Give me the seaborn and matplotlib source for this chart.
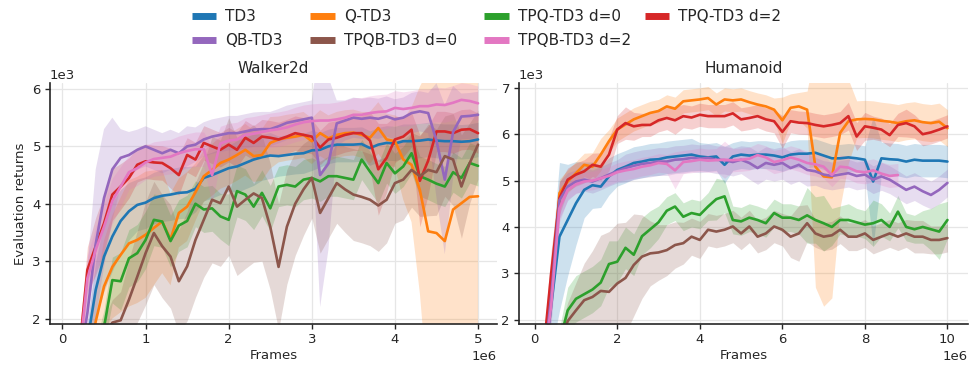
import numpy as np
import matplotlib
matplotlib.use("Agg")
import matplotlib.pyplot as plt
from matplotlib.lines import Line2D
import seaborn as sns

sns.set_theme(style="ticks")
plt.rcParams['font.family'] = ['DejaVu Sans']

# ---- data (returns in 1e3, frames in 1e6) ----
names = ['TD3', 'Q-TD3', 'TPQ-TD3 d=0', 'TPQ-TD3 d=2', 'QB-TD3', 'TPQB-TD3 d=0', 'TPQB-TD3 d=2']
colors = ['#1f77b4', '#ff7f0e', '#2ca02c', '#d62728', '#9467bd', '#8c564b', '#e377c2']

# evaluation schedule: every 0.1e6 frames (Walker2d), every 0.2e6 frames (Humanoid)
walker_frames = np.linspace(0, 5, 51)
humanoid_frames = np.linspace(0, 10, 51)

walker_td3 = [0.3, 0.4, 0.8, 1.6, 2.5, 3.08, 3.43, 3.7, 3.87, 3.98,
              4.02, 4.1, 4.14, 4.16, 4.19, 4.2, 4.26, 4.45, 4.5, 4.56,
              4.62, 4.65, 4.71, 4.77, 4.81, 4.84, 4.83, 4.85, 4.87, 4.88,
              4.93, 4.94, 5.0, 5.03, 5.03, 5.03, 5.04, 4.97, 5.03, 5.06,
              5.05, 5.09, 5.09, 5.1, 5.12, 5.1, 5.09, 5.09, 5.08, 5.09,
              5.12]
walker_qtd3 = [0.3, 0.4, 0.7, 1.2, 1.95, 2.56, 2.9, 3.11, 3.31, 3.37,
               3.46, 3.58, 3.69, 3.38, 3.84, 3.95, 4.2, 4.48, 4.59, 4.71,
               4.77, 4.85, 4.94, 4.83, 4.85, 5.06, 5.12, 5.15, 5.17, 5.2,
               5.09, 5.23, 5.14, 5.2, 5.23, 5.24, 5.2, 5.15, 5.32, 5.12,
               5.09, 4.77, 4.68, 4.24, 3.52, 3.49, 3.35, 3.9, 4.01, 4.12,
               4.13]
walker_tpq0 = [0.2, 0.3, 0.5, 0.8, 1.3, 1.85, 2.67, 2.65, 3.05, 3.14,
               3.37, 3.72, 3.69, 3.35, 3.62, 3.7, 4.0, 3.9, 3.92, 3.78,
               3.72, 4.22, 4.16, 3.95, 4.19, 3.92, 4.3, 4.33, 4.3, 4.42,
               4.45, 4.39, 4.48, 4.48, 4.45, 4.42, 4.77, 4.56, 4.36, 4.71,
               4.53, 4.65, 4.88, 4.48, 4.42, 4.35, 4.3, 4.55, 4.45, 4.71,
               4.66]
walker_tpq2 = [0.3, 0.6, 1.4, 2.85, 3.26, 3.66, 4.16, 4.3, 4.45, 4.68,
               4.74, 4.72, 4.71, 4.62, 4.5, 4.85, 4.77, 5.06, 5.0, 4.94,
               5.03, 4.94, 5.15, 5.06, 5.17, 5.15, 5.12, 5.17, 5.23, 5.2,
               5.17, 4.98, 5.12, 5.15, 5.2, 5.23, 5.23, 5.1, 4.6, 4.8,
               5.12, 5.17, 5.29, 4.4, 4.75, 5.26, 5.26, 5.23, 5.29, 5.3,
               5.23]
walker_qb = [0.3, 0.5, 1.2, 2.1, 3.3, 4.1, 4.6, 4.8, 4.85, 4.94,
             5.0, 4.94, 4.88, 4.94, 4.88, 5.0, 5.03, 5.12, 5.17, 5.2,
             5.23, 5.23, 5.26, 5.29, 5.3, 5.3, 5.35, 5.41, 5.44, 5.47,
             5.5, 4.5, 4.7, 5.4, 5.45, 5.5, 5.48, 5.5, 5.48, 5.52,
             5.47, 5.5, 5.58, 5.61, 5.58, 5.1, 4.42, 5.25, 5.52, 5.53,
             5.55]
walker_tpqb0 = [0.2, 0.3, 0.5, 0.9, 1.3, 1.7, 1.93, 1.97, 2.33, 2.73,
                3.14, 3.49, 3.26, 3.08, 2.65, 2.91, 3.37, 3.72, 4.07, 4.01,
                4.3, 3.95, 4.07, 4.18, 4.1, 3.6, 2.9, 3.6, 4.0, 4.25,
                4.45, 3.84, 4.1, 4.36, 4.25, 4.16, 4.12, 4.07, 3.97, 4.07,
                4.36, 4.42, 4.59, 4.48, 4.59, 4.55, 4.83, 4.77, 4.3, 4.71,
                5.03]
walker_tpqb2 = [0.3, 0.6, 1.3, 2.7, 3.2, 3.6, 4.05, 4.3, 4.55, 4.62,
                4.72, 4.78, 4.8, 4.82, 4.88, 4.92, 4.95, 4.95, 4.5, 5.05,
                5.1, 5.12, 5.2, 5.22, 5.25, 5.28, 5.3, 5.33, 5.38, 5.42,
                5.44, 5.45, 5.45, 5.47, 5.5, 5.55, 5.55, 5.58, 5.6, 5.61,
                5.67, 5.65, 5.67, 5.7, 5.7, 5.73, 5.72, 5.76, 5.81, 5.79,
                5.75]

# half-width of the shaded spread
walker_td3_sd = [0.2, 0.2, 0.2, 0.3, 0.5, 0.6, 0.6, 0.55, 0.5, 0.45,
                 0.45, 0.45, 0.45, 0.45, 0.45, 0.45, 0.4, 0.4, 0.4, 0.4,
                 0.4, 0.45, 0.45, 0.45, 0.4, 0.4, 0.35, 0.35, 0.35, 0.35,
                 0.35, 0.3, 0.3, 0.3, 0.3, 0.3, 0.3, 0.3, 0.3, 0.3,
                 0.3, 0.3, 0.3, 0.3, 0.3, 0.3, 0.3, 0.3, 0.3, 0.3,
                 0.3]
walker_qtd3_sd = [0.2, 0.2, 0.3, 0.4, 0.6, 0.8, 0.9, 1.0, 1.1, 1.1,
                  1.1, 1.0, 0.9, 0.8, 0.6, 0.6, 0.5, 0.45, 0.45, 0.45,
                  0.45, 0.45, 0.45, 0.45, 0.45, 0.45, 0.4, 0.4, 0.4, 0.4,
                  0.4, 0.4, 0.4, 0.4, 0.4, 0.4, 0.4, 0.45, 0.45, 0.45,
                  0.45, 0.7, 1.0, 1.8, 2.8, 2.8, 2.8, 2.6, 2.6, 2.6,
                  2.6]
walker_tpq0_sd = [0.2, 0.2, 0.2, 0.2, 0.3, 0.3, 0.4, 0.5, 0.5, 0.5,
                  0.5, 0.45, 0.45, 0.45, 0.45, 0.45, 0.4, 0.4, 0.4, 0.4,
                  0.45, 0.45, 0.45, 0.4, 0.4, 0.4, 0.35, 0.35, 0.35, 0.35,
                  0.35, 0.35, 0.35, 0.35, 0.35, 0.35, 0.35, 0.35, 0.35, 0.35,
                  0.35, 0.35, 0.35, 0.35, 0.35, 0.35, 0.35, 0.35, 0.35, 0.35,
                  0.35]
walker_tpq2_sd = [0.2, 0.2, 0.3, 0.4, 0.5, 0.5, 0.45, 0.4, 0.35, 0.3,
                  0.3, 0.3, 0.3, 0.35, 0.35, 0.3, 0.3, 0.3, 0.3, 0.3,
                  0.3, 0.3, 0.3, 0.3, 0.3, 0.3, 0.3, 0.3, 0.3, 0.3,
                  0.3, 0.3, 0.3, 0.3, 0.3, 0.3, 0.3, 0.5, 0.8, 0.6,
                  0.4, 0.35, 0.3, 0.8, 0.6, 0.35, 0.35, 0.35, 0.35, 0.35,
                  0.35]
walker_qb_sd = [0.2, 0.2, 0.3, 0.8, 1.3, 1.2, 0.9, 0.5, 0.4, 0.35,
                0.35, 0.35, 0.35, 0.35, 0.35, 0.35, 0.3, 0.3, 0.3, 0.3,
                0.3, 0.3, 0.3, 0.3, 0.3, 0.3, 0.3, 0.3, 0.3, 0.3,
                0.3, 2.3, 1.5, 0.4, 0.35, 0.35, 0.35, 0.35, 0.35, 0.35,
                0.35, 0.35, 0.35, 0.35, 0.35, 1.0, 1.3, 0.8, 0.4, 0.4,
                0.4]
walker_tpqb0_sd = [0.2, 0.2, 0.2, 0.2, 0.3, 0.3, 0.4, 0.5, 0.7, 0.8,
                   0.9, 0.9, 0.9, 0.9, 0.9, 0.95, 1.0, 1.0, 1.1, 1.1,
                   1.2, 1.2, 1.2, 1.2, 1.1, 1.1, 1.1, 1.0, 0.9, 0.8,
                   0.7, 0.7, 0.7, 0.7, 0.75, 0.8, 0.8, 0.8, 0.8, 0.75,
                   0.7, 0.7, 0.65, 0.7, 0.8, 0.75, 0.7, 0.8, 0.9, 0.7,
                   0.6]
walker_tpqb2_sd = [0.2, 0.2, 0.3, 0.4, 0.4, 0.4, 0.4, 0.35, 0.3, 0.3,
                   0.3, 0.3, 0.3, 0.3, 0.3, 0.3, 0.3, 0.3, 0.5, 0.3,
                   0.3, 0.3, 0.3, 0.3, 0.3, 0.3, 0.3, 0.3, 0.3, 0.3,
                   0.3, 0.3, 0.3, 0.3, 0.3, 0.3, 0.3, 0.3, 0.3, 0.3,
                   0.3, 0.3, 0.3, 0.3, 0.3, 0.3, 0.3, 0.3, 0.3, 0.3,
                   0.3]

humanoid_td3 = [0.5, 0.8, 2.3, 3.79, 4.15, 4.51, 4.8, 4.9, 4.87, 5.09,
                5.23, 5.3, 5.38, 5.41, 5.45, 5.46, 5.5, 5.52, 5.54, 5.56,
                5.52, 5.5, 5.52, 5.34, 5.52, 5.56, 5.54, 5.56, 5.56, 5.54,
                5.5, 5.56, 5.58, 5.58, 5.6, 5.54, 5.48, 5.48, 5.5, 5.48,
                5.45, 4.98, 5.48, 5.46, 5.45, 5.41, 5.45, 5.43, 5.43, 5.43,
                5.41]
humanoid_qtd3 = [0.5, 0.9, 2.6, 4.73, 4.98, 5.16, 5.34, 5.3, 5.56, 5.85,
                 6.1, 6.21, 6.32, 6.39, 6.46, 6.5, 6.6, 6.55, 6.71, 6.73,
                 6.75, 6.78, 6.64, 6.75, 6.73, 6.75, 6.69, 6.64, 6.6, 6.53,
                 6.3, 6.57, 6.6, 6.53, 5.3, 5.09, 5.07, 6.03, 6.28, 6.32,
                 6.33, 6.32, 6.29, 6.27, 6.24, 6.28, 6.3, 6.26, 6.24, 6.27,
                 6.13]
humanoid_tpq0 = [0.3, 0.5, 0.9, 1.5, 2.2, 2.45, 2.55, 2.65, 2.8, 3.2,
                 3.25, 3.55, 3.4, 3.8, 3.95, 4.1, 4.35, 4.44, 4.22, 4.3,
                 4.26, 4.44, 4.6, 4.66, 4.15, 4.12, 4.2, 4.15, 4.08, 4.3,
                 4.2, 4.2, 4.15, 4.25, 4.15, 4.08, 4.0, 4.15, 4.15, 4.1,
                 4.05, 4.08, 4.15, 4.0, 4.33, 4.0, 3.95, 4.0, 3.95, 3.9,
                 4.15]
humanoid_tpq2 = [0.5, 1.2, 3.0, 4.62, 5.02, 5.13, 5.2, 5.34, 5.3, 5.56,
                 6.1, 6.24, 6.17, 6.2, 6.2, 6.3, 6.35, 6.3, 6.39, 6.36,
                 6.42, 6.39, 6.39, 6.39, 6.45, 6.32, 6.35, 6.39, 6.32, 6.28,
                 6.05, 6.28, 6.25, 6.24, 6.2, 6.17, 6.2, 6.24, 6.39, 5.95,
                 6.17, 6.14, 6.1, 5.98, 6.2, 6.24, 6.17, 6.0, 6.04, 6.1,
                 6.17]
humanoid_qb = [0.5, 0.9, 2.5, 4.58, 4.87, 4.98, 5.02, 4.98, 5.05, 5.13,
               5.2, 5.27, 5.32, 5.36, 5.38, 5.41, 5.41, 5.45, 5.46, 5.49,
               5.47, 5.49, 5.45, 5.44, 5.4, 5.45, 5.38, 5.27, 5.38, 5.34,
               5.38, 5.27, 5.34, 5.23, 5.2, 5.13, 5.1, 5.13, 5.16, 5.1,
               5.13, 5.02, 5.09, 5.02, 4.91, 4.8, 4.87, 4.77, 4.69, 4.8,
               4.95]
humanoid_tpqb0 = [0.3, 0.5, 0.9, 1.4, 1.97, 2.2, 2.42, 2.49, 2.62, 2.6,
                  2.78, 2.9, 3.18, 3.36, 3.43, 3.45, 3.5, 3.61, 3.65, 3.79,
                  3.72, 3.94, 3.9, 3.94, 4.01, 3.86, 4.01, 3.79, 3.86, 4.01,
                  3.94, 3.79, 3.86, 4.08, 3.86, 3.79, 3.82, 3.94, 3.79, 3.79,
                  3.86, 3.72, 3.79, 3.86, 3.79, 3.86, 3.79, 3.79, 3.72, 3.72,
                  3.76]
# TPQB-TD3 d=2 run on Humanoid stops at 8.8e6 frames
humanoid_tpqb2 = [0.5, 0.9, 2.3, 4.4, 4.8, 4.92, 4.98, 5.0, 5.05, 5.1,
                  5.18, 5.22, 5.25, 5.3, 5.33, 5.38, 5.36, 5.22, 5.4, 5.42,
                  5.45, 5.43, 5.44, 5.45, 5.44, 5.45, 5.47, 5.55, 5.5, 5.4,
                  5.44, 5.5, 5.45, 5.38, 5.35, 5.3, 5.12, 5.3, 5.28, 5.2,
                  5.18, 5.22, 5.15, 5.1, 5.12]

humanoid_td3_sd = [0.3, 0.3, 1.0, 1.6, 1.2, 0.9, 0.6, 0.5, 0.45, 0.4,
                   0.35, 0.35, 0.35, 0.35, 0.35, 0.35, 0.35, 0.35, 0.35, 0.35,
                   0.3, 0.3, 0.3, 0.4, 0.3, 0.3, 0.3, 0.3, 0.3, 0.3,
                   0.3, 0.3, 0.3, 0.3, 0.3, 0.3, 0.3, 0.3, 0.3, 0.3,
                   0.3, 1.4, 0.35, 0.35, 0.35, 0.35, 0.35, 0.35, 0.35, 0.35,
                   0.35]
humanoid_qtd3_sd = [0.2, 0.2, 0.5, 0.3, 0.25, 0.25, 0.25, 0.3, 0.35, 0.25,
                    0.25, 0.25, 0.25, 0.25, 0.25, 0.25, 0.25, 0.25, 0.25, 0.25,
                    0.25, 0.25, 0.25, 0.25, 0.25, 0.25, 0.25, 0.25, 0.25, 0.25,
                    0.5, 0.3, 0.3, 0.4, 2.6, 2.8, 2.6, 1.6, 0.9, 0.4,
                    0.4, 0.4, 0.4, 0.4, 0.4, 0.4, 0.4, 0.4, 0.4, 0.4,
                    0.4]
humanoid_tpq0_sd = [0.2, 0.2, 0.3, 0.3, 0.5, 0.5, 0.5, 0.5, 0.5, 0.5,
                    0.45, 0.45, 0.45, 0.4, 0.4, 0.35, 0.3, 0.3, 0.3, 0.3,
                    0.3, 0.3, 0.45, 0.35, 0.3, 0.3, 0.3, 0.3, 0.3, 0.3,
                    0.3, 0.3, 0.3, 0.6, 0.5, 0.6, 0.4, 0.3, 0.35, 0.3,
                    0.3, 0.5, 0.35, 0.3, 0.35, 0.3, 0.3, 0.35, 0.45, 0.6,
                    0.4]
humanoid_tpq2_sd = [0.2, 0.2, 0.5, 0.35, 0.25, 0.25, 0.25, 0.25, 0.3, 0.35,
                    0.3, 0.35, 0.3, 0.25, 0.25, 0.25, 0.25, 0.3, 0.25, 0.25,
                    0.25, 0.25, 0.25, 0.25, 0.25, 0.25, 0.25, 0.25, 0.25, 0.25,
                    0.35, 0.25, 0.25, 0.25, 0.25, 0.25, 0.25, 0.25, 0.3, 0.3,
                    0.3, 0.25, 0.25, 0.25, 0.25, 0.3, 0.25, 0.25, 0.25, 0.25,
                    0.25]
humanoid_qb_sd = [0.2, 0.2, 0.5, 0.4, 0.3, 0.25, 0.25, 0.25, 0.25, 0.25,
                  0.25, 0.3, 0.3, 0.3, 0.3, 0.3, 0.3, 0.3, 0.3, 0.3,
                  0.3, 0.3, 0.3, 0.3, 0.3, 0.3, 0.35, 0.35, 0.35, 0.35,
                  0.35, 0.35, 0.35, 0.35, 0.3, 0.3, 0.3, 0.3, 0.3, 0.3,
                  0.3, 0.3, 0.3, 0.3, 0.3, 0.3, 0.3, 0.3, 0.3, 0.3,
                  0.3]
humanoid_tpqb0_sd = [0.2, 0.2, 0.3, 0.3, 0.4, 0.6, 0.8, 1.0, 1.2, 1.3,
                     1.3, 1.2, 1.1, 0.9, 0.7, 0.6, 0.55, 0.5, 0.45, 0.4,
                     0.4, 0.35, 0.35, 0.35, 0.35, 0.35, 0.35, 0.35, 0.35, 0.35,
                     0.35, 0.45, 0.6, 0.4, 0.3, 0.3, 0.3, 0.3, 0.3, 0.3,
                     0.3, 0.3, 0.3, 0.3, 0.3, 0.3, 0.35, 0.35, 0.3, 0.3,
                     0.3]
humanoid_tpqb2_sd = [0.2, 0.2, 0.4, 0.3, 0.2, 0.2, 0.2, 0.2, 0.2, 0.2,
                     0.2, 0.2, 0.2, 0.2, 0.2, 0.2, 0.2, 0.4, 0.25, 0.25,
                     0.25, 0.25, 0.25, 0.4, 0.25, 0.25, 0.25, 0.25, 0.25, 0.25,
                     0.25, 0.25, 0.25, 0.25, 0.25, 0.25, 0.25, 0.25, 0.25, 0.25,
                     0.25, 0.25, 0.25, 0.25, 0.25]

walker_runs = [walker_td3, walker_qtd3, walker_tpq0, walker_tpq2, walker_qb, walker_tpqb0, walker_tpqb2]
walker_sds = [walker_td3_sd, walker_qtd3_sd, walker_tpq0_sd, walker_tpq2_sd, walker_qb_sd, walker_tpqb0_sd, walker_tpqb2_sd]
humanoid_runs = [humanoid_td3, humanoid_qtd3, humanoid_tpq0, humanoid_tpq2, humanoid_qb, humanoid_tpqb0, humanoid_tpqb2]
humanoid_sds = [humanoid_td3_sd, humanoid_qtd3_sd, humanoid_tpq0_sd, humanoid_tpq2_sd, humanoid_qb_sd, humanoid_tpqb0_sd, humanoid_tpqb2_sd]


def panel(ax, frames, runs, sds, title, xlim, ylim, xticks, yticks):
    for idx in range(len(names)):
        y = np.array(runs[idx]) * 1e3
        sd = np.array(sds[idx]) * 1e3
        x = frames[:len(y)] * 1e6
        ax.fill_between(x, y - sd, y + sd, color=colors[idx], alpha=0.22, lw=0)
    for idx in range(len(names)):
        y = np.array(runs[idx]) * 1e3
        x = frames[:len(y)] * 1e6
        sns.lineplot(x=x, y=y, color=colors[idx], lw=1.9, ax=ax)
    ax.set_xlim(*xlim)
    ax.set_ylim(*ylim)
    ax.set_xticks(xticks)
    ax.set_yticks(yticks)
    ax.ticklabel_format(axis='x', style='sci', scilimits=(6, 6))
    ax.ticklabel_format(axis='y', style='sci', scilimits=(3, 3))
    ax.grid(True, color='#e6e6e6', lw=0.9)
    ax.set_axisbelow(True)
    ax.set_title(title, fontsize=11, pad=7)
    ax.set_xlabel('Frames', fontsize=9.5, labelpad=2)
    ax.tick_params(labelsize=9.5, length=3.5, width=1, color='#262626', pad=3)
    ax.xaxis.get_offset_text().set_fontsize(9.5)
    ax.yaxis.get_offset_text().set_fontsize(9.5)
    for side in ['left', 'bottom']:
        ax.spines[side].set_linewidth(1.2)
        ax.spines[side].set_color('#262626')
    sns.despine(ax=ax)


fig = plt.figure(figsize=(9.71, 3.7), dpi=100)
ax1 = fig.add_axes([0.0515, 0.1235, 0.4605, 0.6516])
ax2 = fig.add_axes([0.5345, 0.1235, 0.4625, 0.6516])

panel(ax1, walker_frames, walker_runs, walker_sds, 'Walker2d',
      (-0.15e6, 5.23e6), (1.9e3, 6.1e3), [0, 1e6, 2e6, 3e6, 4e6, 5e6], [2e3, 3e3, 4e3, 5e3, 6e3])
panel(ax2, humanoid_frames, humanoid_runs, humanoid_sds, 'Humanoid',
      (-0.38e6, 10.5e6), (1.9e3, 7.1e3), [0, 2e6, 4e6, 6e6, 8e6, 10e6], [2e3, 3e3, 4e3, 5e3, 6e3, 7e3])
ax1.set_ylabel('Evaluation returns', fontsize=9.5)
ax2.set_ylabel('')

# legend laid out row by row (matplotlib fills columns first); last column placed on its own
leg_kw = dict(frameon=False, fontsize=11, handlelength=1.6, handletextpad=0.6,
              columnspacing=1.8, labelspacing=0.55, borderpad=0, loc='upper left')
order = [0, 4, 1, 5, 2, 6]
handles = [Line2D([], [], color=colors[i], lw=5, solid_capstyle='butt') for i in order]
fig.legend(handles, [names[i] for i in order], ncol=3,
           bbox_to_anchor=(184 / 971, 0.995), **leg_kw)
fig.legend([Line2D([], [], color=colors[3], lw=5, solid_capstyle='butt')], [names[3]],
           bbox_to_anchor=(637 / 971, 0.995), **leg_kw)

fig.savefig('out.png', dpi=100)
